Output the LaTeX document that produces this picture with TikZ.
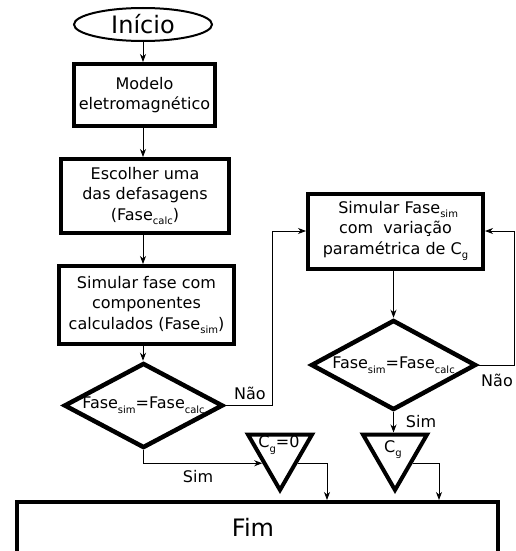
\documentclass[tikz,border=0pt]{standalone}
\usepackage{fontspec}
\setmainfont{DejaVu Sans}
\usetikzlibrary{shapes.geometric,arrows.meta}
\newcommand\subtx[1]{\raisebox{-0.3em}{\fontsize{10}{10}\selectfont #1}}
\begin{document}
\begin{tikzpicture}[x=1pt,y=-1pt,
 box/.style={draw, line width=4pt, inner sep=0pt, align=center, font=\fontsize{16}{20.5}\selectfont},
 dec/.style={draw, diamond, line width=4.5pt, inner sep=0pt, aspect=1.8, font=\fontsize{16}{20}\selectfont},
 tri/.style={draw, regular polygon, regular polygon sides=3, shape border rotate=180, line width=4pt, inner sep=0pt, minimum size=74pt},
 conn/.style={line width=0.9pt, -{Stealth[length=8pt,width=6pt,inset=2.5pt]}},
 plain/.style={line width=0.9pt},
 lbl/.style={font=\fontsize{16}{20}\selectfont, inner sep=0pt}
]
\clip (0,0) rectangle (515,551);
\fill[white] (0,0) rectangle (515,551);

\node[draw, ellipse, line width=2pt, minimum width=138pt, minimum height=33pt, inner sep=0pt, font=\fontsize{24}{24}\selectfont] (ini) at (143,24.5) {Início};
\node[box, minimum width=141pt, minimum height=62pt] (mod) at (144.5,95) {Modelo\\eletromagnético};
\node[box, minimum width=168pt, minimum height=74pt] (esc) at (145,196) {Escolher uma\\das defasagens\\(Fase\subtx{calc})};
\node[box, minimum width=175pt, minimum height=78pt] (sim) at (146.5,305) {Simular fase com\\componentes\\calculados (Fase\subtx{sim})};
\node[dec, minimum width=159pt, minimum height=85pt] (d1) at (143.5,405.5) {Fase\subtx{sim}=Fase\subtx{calc}};

\node[box, minimum width=175pt, minimum height=75pt] (box2) at (395.5,231) {\,\,Simular Fase\subtx{sim}\\com\ \ variação\\paramétrica de C\subtx{g}};
\node[dec, minimum width=165pt, minimum height=90pt] (d2) at (393.5,365) {Fase\subtx{sim}=Fase\subtx{calc}};

\node[tri] (tri1) at (280,453) {};
\node[lbl] (t1) at (279,445) {C\subtx{g}=0};
\node[tri] (tri2) at (395,453) {};
\node[lbl] (t2) at (393,449.5) {C\subtx{g}};

\node[box, minimum width=481pt, minimum height=80pt, anchor=north] (fim) at (257.5,500) {};
\node[lbl, font=\fontsize{24}{24}\selectfont] (fimtx) at (253,527) {Fim};

\coordinate (f1) at (327,500);
\coordinate (f2) at (439,500);

\draw[conn] (ini.south) -- (ini.south |- mod.north);
\draw[conn] (mod.south -| ini.south) -- (ini.south |- esc.north);
\draw[conn] (esc.south -| ini.south) -- (ini.south |- sim.north);
\draw[conn] (sim.south -| ini.south) -- (ini.south |- d1.north);

\draw[conn] (d1.east) -| ([xshift=-34pt]box2.west) -- (box2.west);
\node[lbl] (nao1) at (250,393) {Não};

\draw[conn] (box2.south -| d2.north) -- (d2.north);
\draw[conn] (d2.east) -| ([xshift=29pt]box2.east) -- (box2.east);
\node[lbl] (nao2) at (497,380) {Não};

\draw[conn] (d2.south) -- (d2.south |- tri2.side 2);
\node[lbl] (sim2) at (421,422) {Sim};

\draw[conn] (d1.south) |- (tri1.side 3);
\node[lbl] (sim1) at (198,477) {Sim};

\draw[conn] (tri1.side 1) -| (f1 |- fim.north);
\draw[conn] (tri2.side 1) -| (f2 |- fim.north);
\end{tikzpicture}
\end{document}
